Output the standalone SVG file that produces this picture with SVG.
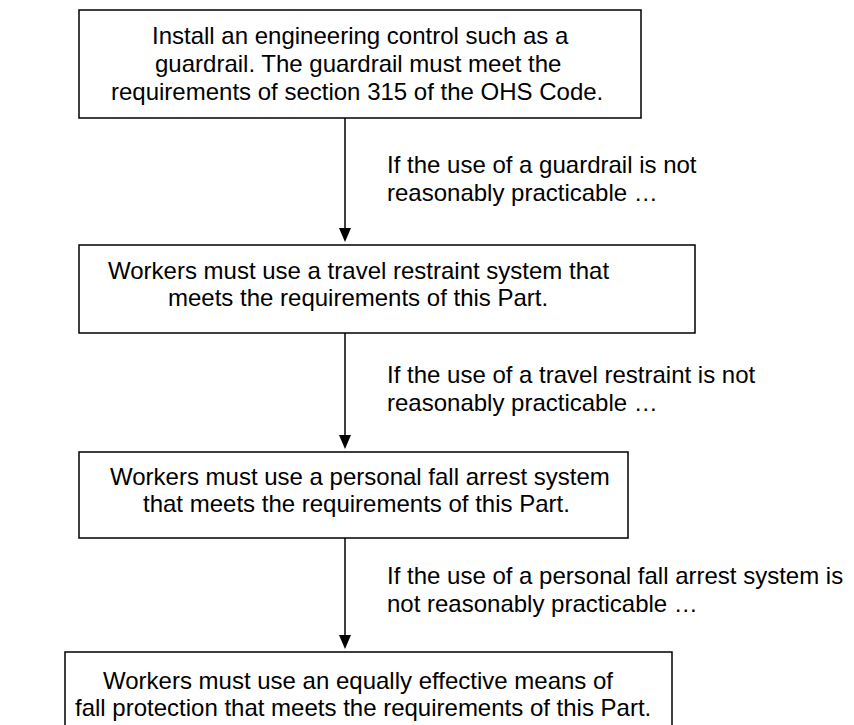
<svg xmlns="http://www.w3.org/2000/svg" width="854" height="725" viewBox="0 0 854 725">
<style>
.box{fill:#fff;stroke:#000;stroke-width:1.5}
.t{font-family:"Liberation Sans",Arial,sans-serif;font-size:24px;fill:#000}
.c{stroke:#000;stroke-width:1.5;fill:none}
.ah{fill:#000}
</style>
<rect width="854" height="725" fill="#fff"/>
<g id="connectors">
<line class="c" x1="345" y1="118" x2="345" y2="232"/>
<path class="ah" d="M339,228 L351,228 L345,242 Z"/>
<line class="c" x1="345" y1="333" x2="345" y2="439"/>
<path class="ah" d="M339,435 L351,435 L345,449 Z"/>
<line class="c" x1="345" y1="538" x2="345" y2="639"/>
<path class="ah" d="M339,635 L351,635 L345,649 Z"/>
<text class="t" x="387" y="173">If the use of a guardrail is not</text>
<text class="t" x="387" y="201">reasonably practicable …</text>
<text class="t" x="387" y="383">If the use of a travel restraint is not</text>
<text class="t" x="387" y="411">reasonably practicable …</text>
<text class="t" x="387" y="584">If the use of a personal fall arrest system is</text>
<text class="t" x="387" y="612">not reasonably practicable …</text>
</g>
<g id="n1">
<rect class="box" x="79" y="10" width="562" height="108"/>
<text class="t" x="152" y="44">Install an engineering control such as a</text>
<text class="t" x="155" y="72">guardrail. The guardrail must meet the</text>
<text class="t" x="111" y="100">requirements of section 315 of the OHS Code.</text>
</g>
<g id="n2">
<rect class="box" x="79" y="245" width="616" height="88"/>
<text class="t" x="108" y="279">Workers must use a travel restraint system that</text>
<text class="t" x="168" y="306">meets the requirements of this Part.</text>
</g>
<g id="n3">
<rect class="box" x="79" y="452" width="549" height="86"/>
<text class="t" x="110" y="485">Workers must use a personal fall arrest system</text>
<text class="t" x="143" y="512">that meets the requirements of this Part.</text>
</g>
<g id="n4">
<rect class="box" x="65" y="652" width="607" height="85"/>
<text class="t" x="103" y="689">Workers must use an equally effective means of</text>
<text class="t" x="75" y="716">fall protection that meets the requirements of this Part.</text>
</g>
</svg>
